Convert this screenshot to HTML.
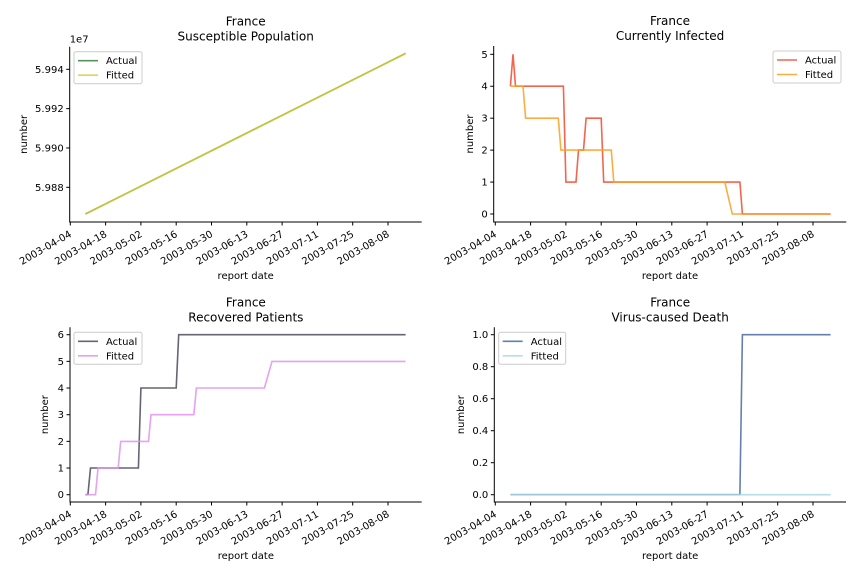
<!DOCTYPE html>
<html><head><meta charset="utf-8"><style>
body{margin:0;background:#fff}
svg{display:block;font-family:"DejaVu Sans","Liberation Sans",sans-serif}
</style></head><body>
<svg id="fig" width="864" height="576" viewBox="0 0 864 576" xmlns="http://www.w3.org/2000/svg"></svg>
<script>
const tickLabels=["2003-04-04","2003-04-18","2003-05-02","2003-05-16","2003-05-30","2003-06-13","2003-06-27","2003-07-11","2003-07-25","2003-08-08"];
const tickDays=[0,14,28,42,56,70,84,98,112,126];
const suscActual=[[6,5.98664],[133,5.99481]];
const suscFitted=[[6,5.98664],[133,5.99481]];
const suscTicks=[5.988,5.990,5.992,5.994];
const infActual=[[6,4],[7,5],[8,4],[27,4],[28,1],[32,1],[33,2],[35,2],[36,3],[42,3],[43,1],[97,1],[98,0],[133,0]];
const infFitted=[[6,4],[11,4],[12,3],[25,3],[26,2],[46,2],[47,1],[91,1],[94,0],[133,0]];
const infTicks=[0,1,2,3,4,5];
const recActual=[[6,0],[7,0],[8,1],[27,1],[28,4],[42,4],[43,6],[133,6]];
const recFitted=[[6,0],[10,0],[11,1],[19,1],[20,2],[31,2],[32,3],[49,3],[50,4],[77,4],[80,5],[133,5]];
const recTicks=[0,1,2,3,4,5,6];
const deathActual=[[6,0],[97,0],[98,1],[133,1]];
const deathFitted=[[6,0],[133,0]];
const deathTicks=[0,0.2,0.4,0.6,0.8,1.0];

const NS="http://www.w3.org/2000/svg";
const fig=document.getElementById('fig');
function mk(tag,attrs,parent){const e=document.createElementNS(NS,tag);for(const k in attrs)e.setAttribute(k,attrs[k]);(parent||fig).appendChild(e);return e;}

function panel(o){
  const g=mk('g',{});
  
  
  const x=d=>o.x0+d*(35.3/14);
  const y=v=>o.yb+(v-o.v0)*(o.yt-o.yb)/(o.v1-o.v0);
  const t1=mk('text',{x:(o.left+o.right)/2,y:o.top-21,'text-anchor':'middle','font-size':12,fill:'#000'},g);
  t1.textContent='France';
  
  
  const t2=mk('text',{x:(o.left+o.right)/2,y:o.top-6,'text-anchor':'middle','font-size':12,fill:'#000'},g);
  t2.textContent=o.title;
  
  
  const series=[[o.actual,o.ca],[o.fitted,o.cf]];
  series.forEach((s,i)=>{
    const p=mk('polyline',{points:s[0].map(q=>x(q[0]).toFixed(1)+','+y(q[1]).toFixed(1)).join(' '),fill:'none',stroke:s[1],'stroke-width':1.6,'stroke-opacity':0.85},g);
    
    
  });
  const ax=mk('path',{d:`M${o.left},${o.top}V${o.bottom}H${o.right}`,fill:'none',stroke:'#000','stroke-width':1},g);
  
  
  tickDays.forEach((d,i)=>{
    const xx=x(d);
    mk('line',{x1:xx,x2:xx,y1:o.bottom,y2:o.bottom+3.5,stroke:'#000'},g);
    const tl=mk('text',{x:xx+2,y:o.bottom+14,'text-anchor':'end','font-size':10,fill:'#000',transform:`rotate(-30 ${xx+2} ${o.bottom+14})`},g);
    tl.textContent=tickLabels[i];
    
    
  });
  o.ticks.forEach(v=>{
    const yy=y(v);
    mk('line',{x1:o.left-3.5,x2:o.left,y1:yy,y2:yy,stroke:'#000'},g);
    const tl=mk('text',{x:o.left-6,y:yy+3.5,'text-anchor':'end','font-size':10,fill:'#000'},g);
    tl.textContent=o.fmt(v);
    
    
  });
  const xl=mk('text',{x:(o.left+o.right)/2,y:o.bottom+57,'text-anchor':'middle','font-size':10,fill:'#000'},g);
  xl.textContent='report date';
  
  
  const yl=mk('text',{x:o.ylx,y:(o.top+o.bottom)/2,'text-anchor':'middle','font-size':10,fill:'#000',transform:`rotate(-90 ${o.ylx} ${(o.top+o.bottom)/2})`},g);
  yl.textContent='number';
  
  
  if(o.offset){const of=mk('text',{x:o.left,y:o.top-4,'font-size':10,fill:'#000'},g);of.textContent=o.offset;
    
    }
  const lg=mk('g',{},g);
  
  
  const lx=o.legX,ly=o.top+5;
  mk('rect',{x:lx,y:ly,width:o.legW,height:32,rx:2,fill:'#fff','fill-opacity':0.8,stroke:'#ccc'},lg);
  [['Actual',o.ca],['Fitted',o.cf]].forEach((e,i)=>{
    const yy=ly+9+i*14.5;
    mk('line',{x1:lx+4,x2:lx+24,y1:yy,y2:yy,stroke:e[1],'stroke-width':1.6,'stroke-opacity':0.85},lg);
    const tt=mk('text',{x:lx+32,y:yy+3.5,'font-size':10,fill:'#000'},lg);
    tt.textContent=e[0];
    
    
  });
}
const f0=v=>String(v);
panel({name:'susceptible-panel',title:'Susceptible Population',left:69.7,right:421.7,top:46.7,bottom:222,x0:70.3,
  v0:5.988,v1:5.994,yb:187.3,yt:69.3,ticks:suscTicks,fmt:v=>v.toFixed(3),actual:suscActual,fitted:suscFitted,
  ca:'#3f7f3f',cf:'#d8cf30',legX:74,legW:68,ylx:27,offset:'1e7'});
panel({name:'infected-panel',title:'Currently Infected',left:493.7,right:846.3,top:46,bottom:222,x0:495.3,
  v0:0,v1:5,yb:214,yt:54.3,ticks:infTicks,fmt:f0,actual:infActual,fitted:infFitted,
  ca:'#f04a30',cf:'#f8a020',legX:773,legW:68,ylx:473});
panel({name:'recovered-panel',title:'Recovered Patients',left:70,right:421.7,top:327.3,bottom:502,x0:70.3,
  v0:0,v1:6,yb:494.7,yt:334.7,ticks:recTicks,fmt:f0,actual:recActual,fitted:recFitted,
  ca:'#4a4a5a',cf:'#e090f0',legX:74,legW:68,ylx:48});
panel({name:'death-panel',title:'Virus-caused Death',left:494.3,right:846,top:327.3,bottom:502,x0:495.3,
  v0:0,v1:1,yb:494.7,yt:334.7,ticks:deathTicks,fmt:v=>v.toFixed(1),actual:deathActual,fitted:deathFitted,
  ca:'#4a6aa0',cf:'#a8d8e0',legX:498.7,legW:67,ylx:464});
</script>
</body></html>
